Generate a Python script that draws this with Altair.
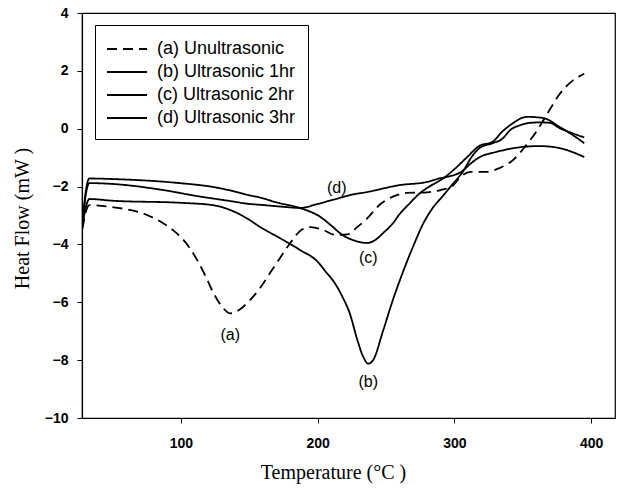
import altair as alt
import pandas as pd

# ---- data ----
series_names = ["(a) Unultrasonic", "(b) Ultrasonic 1hr", "(c) Ultrasonic 2hr", "(d) Ultrasonic 3hr"]

a_T = [28, 30, 33, 50, 75, 94, 100, 106, 112, 118, 124, 130, 136, 143, 151, 158, 165, 172, 180, 188, 195, 204, 213, 222, 229, 235, 246, 255, 265, 280, 290, 298, 306, 312, 324, 333, 343, 352, 360, 369, 377, 385, 395]
a_y = [-3.45, -2.95, -2.64, -2.71, -2.98, -3.5, -3.75, -4.1, -4.55, -5.1, -5.7, -6.15, -6.38, -6.25, -5.9, -5.5, -5.0, -4.5, -3.95, -3.5, -3.4, -3.5, -3.67, -3.65, -3.4, -3.16, -2.6, -2.35, -2.22, -2.2, -2.12, -2.0, -1.6, -1.49, -1.49, -1.36, -1.08, -0.6, -0.1, 0.6, 1.2, 1.6, 1.9]

b_T = [28, 30, 33, 50, 99, 123, 136, 148, 158, 175, 187, 200, 206, 212, 218, 223.6, 229, 233, 237, 240.5, 248, 255, 262, 270, 277, 284, 292, 299, 306, 313, 319, 328, 335, 341, 348, 355, 363, 370, 377, 386, 395]
b_y = [-3.35, -2.8, -2.43, -2.49, -2.56, -2.64, -2.81, -3.09, -3.4, -3.85, -4.19, -4.6, -4.95, -5.3, -5.8, -6.4, -7.3, -7.85, -8.12, -8.0, -6.96, -5.92, -5.0, -4.05, -3.3, -2.75, -2.3, -1.9, -1.5, -0.95, -0.65, -0.5, -0.35, -0.04, 0.12, 0.2, 0.22, 0.2, 0.02, -0.15, -0.3]

c_T = [28, 30, 33, 50, 99, 123, 141, 150, 158, 170, 187, 202, 210, 218, 226, 236, 242, 248, 255, 260, 267.5, 275, 280, 292, 300, 310, 318, 328, 335, 341, 353, 365, 377, 386, 395]
c_y = [-3.3, -2.3, -1.72, -1.74, -1.88, -2.01, -2.19, -2.3, -2.38, -2.55, -2.74, -3.05, -3.35, -3.67, -3.85, -3.95, -3.85, -3.6, -3.27, -2.95, -2.57, -2.22, -2.05, -1.71, -1.4, -0.95, -0.6, -0.45, -0.1, 0.13, 0.41, 0.37, 0.06, -0.2, -0.5]

d_T = [28, 30, 33, 50, 87, 112, 136, 150, 158, 175, 187, 200, 211, 224, 236, 260, 280, 289, 297, 306, 312, 318.6, 331, 340, 350, 362, 377, 386, 395]
d_y = [-3.3, -2.4, -1.88, -1.91, -2.12, -2.33, -2.5, -2.6, -2.63, -2.7, -2.74, -2.6, -2.46, -2.29, -2.19, -1.95, -1.84, -1.72, -1.64, -1.46, -1.2, -0.98, -0.8, -0.7, -0.63, -0.6, -0.67, -0.8, -0.98]

label_text = ["(a)", "(b)", "(c)", "(d)"]
label_T = [136, 237, 237, 214]
label_y = [-7.13, -8.75, -4.47, -2.05]

x_ticks = [100, 200, 300, 400]
y_ticks = [-10, -8, -6, -4, -2, 0, 2, 4]

# ---- build table ----
rows = []
for name, T, Y in zip(series_names, [a_T, b_T, c_T, d_T], [a_y, b_y, c_y, d_y]):
    for t, y in zip(T, Y):
        rows.append({"series": name, "T": t, "Q": y})
df = pd.DataFrame(rows)
lab = pd.DataFrame({"text": label_text, "T": label_T, "Q": label_y})

x_scale = alt.Scale(domain=[27.6, 417.5], nice=False, zero=False)
y_scale = alt.Scale(domain=[-10, 4], nice=False, zero=False)

lines = alt.Chart(df).mark_line(strokeWidth=1.8, interpolate="monotone", clip=True, color="black").encode(
    x=alt.X("T:Q", scale=x_scale,
            axis=alt.Axis(values=x_ticks, title="Temperature (°C )", grid=False,
                          titleX=251, titleY=54, titleAnchor=None, titleAlign="center",
                          titleBaseline="middle")),
    y=alt.Y("Q:Q", scale=y_scale,
            axis=alt.Axis(values=y_ticks, title="Heat Flow (mW )", grid=False,
                          titleX=-60, titleY=205, titleAngle=270, titleAlign="center",
                          titleBaseline="middle")),
    strokeDash=alt.StrokeDash(
        "series:N",
        scale=alt.Scale(domain=series_names, range=[[10, 6], [1, 0], [1, 0], [1, 0]]),
        legend=alt.Legend(title=None, orient="none", legendX=13, legendY=12,
                          symbolType="M-1.09,0H2.55", symbolSize=484, symbolStrokeWidth=1.8,
                          symbolStrokeColor="black", symbolFillColor="transparent",
                          labelFont="Liberation Sans", labelFontSize=18, labelColor="black",
                          labelOffset=26, padding=12, rowPadding=2,
                          strokeColor="black", fillColor="white", labelLimit=300),
    ),
    detail="series:N",
)

labels = alt.Chart(lab).mark_text(font="Liberation Sans", fontSize=16, color="black").encode(
    x=alt.X("T:Q", scale=x_scale),
    y=alt.Y("Q:Q", scale=y_scale),
    text="text:N",
)

chart = alt.layer(lines, labels).properties(
    width=533, height=405,
    autosize=alt.AutoSizeParams(type="none"),
    padding={"left": 82, "top": 13, "right": 5, "bottom": 72},
    background="white",
).configure_view(stroke="black", strokeWidth=1.2).configure_axis(
    domainColor="black", domainWidth=1.2, tickColor="black", tickSize=5, tickWidth=1,
    labelFont="Liberation Sans", labelFontWeight="bold", labelFontSize=14, labelColor="black",
    titleFont="Liberation Serif", titleFontSize=20, titleFontWeight="normal", titleColor="black",
).configure_axisX(labelPadding=13).configure_axisY(labelPadding=9)

chart.save("out.html", embed_options={"renderer": "svg", "actions": False})
